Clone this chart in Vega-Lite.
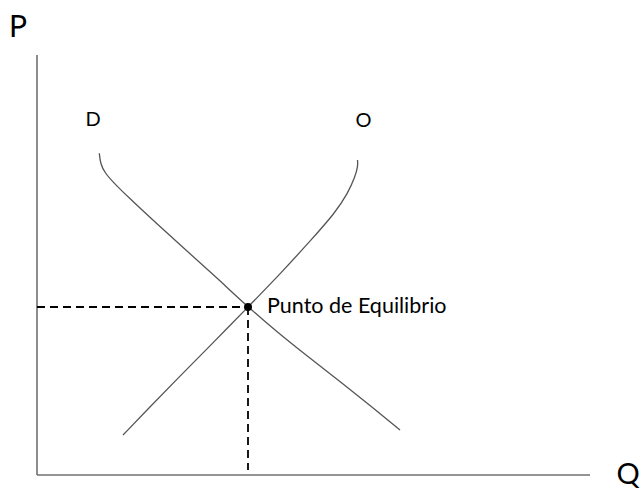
{
  "$schema": "https://vega.github.io/schema/vega-lite/v6.json",
  "width": 642,
  "height": 489,
  "padding": 0,
  "autosize": "none",
  "background": "white",
  "config": {"view": {"stroke": null}},
  "datasets": {
    "axes": [
      {"q": 0, "p": 0, "q2": 553, "p2": 0},
      {"q": 0, "p": 0, "q2": 0, "p2": 420}
    ],
    "curves": [
      {"curve": "D", "i": 0, "q": 62.3, "p": 321.7},
      {"curve": "D", "i": 1, "q": 63.5, "p": 311},
      {"curve": "D", "i": 2, "q": 68, "p": 302},
      {"curve": "D", "i": 3, "q": 76, "p": 293},
      {"curve": "D", "i": 4, "q": 90, "p": 279},
      {"curve": "D", "i": 5, "q": 120, "p": 251},
      {"curve": "D", "i": 6, "q": 150, "p": 224},
      {"curve": "D", "i": 7, "q": 180, "p": 197},
      {"curve": "D", "i": 8, "q": 211, "p": 168},
      {"curve": "D", "i": 9, "q": 240, "p": 143},
      {"curve": "D", "i": 10, "q": 270, "p": 119},
      {"curve": "D", "i": 11, "q": 300, "p": 96},
      {"curve": "D", "i": 12, "q": 330, "p": 72},
      {"curve": "D", "i": 13, "q": 363, "p": 45},
      {"curve": "O", "i": 0, "q": 86, "p": 40},
      {"curve": "O", "i": 1, "q": 110, "p": 65},
      {"curve": "O", "i": 2, "q": 140, "p": 96},
      {"curve": "O", "i": 3, "q": 175, "p": 131},
      {"curve": "O", "i": 4, "q": 211, "p": 168},
      {"curve": "O", "i": 5, "q": 245, "p": 203},
      {"curve": "O", "i": 6, "q": 275, "p": 236},
      {"curve": "O", "i": 7, "q": 298, "p": 262},
      {"curve": "O", "i": 8, "q": 311, "p": 282},
      {"curve": "O", "i": 9, "q": 318, "p": 298},
      {"curve": "O", "i": 10, "q": 321, "p": 309},
      {"curve": "O", "i": 11, "q": 320.5, "p": 315}
    ],
    "dashes": [
      {"q": 0, "p": 168, "q2": 211, "p2": 168},
      {"q": 211, "p": 168, "q2": 211, "p2": 5}
    ],
    "eq": [{"q": 211, "p": 168}],
    "labels": [
      {"t": "P", "q": -19, "p": 438, "size": 30},
      {"t": "Q", "q": 591, "p": -9, "size": 29},
      {"t": "D", "q": 56, "p": 349, "size": 20},
      {"t": "O", "q": 326.5, "p": 348, "size": 20}
    ],
    "eqlabel": [
      {"t": "Punto de Equilibrio", "q": 230, "p": 162, "size": 21.5}
    ]
  },
  "encoding": {
    "x": {"field": "q", "type": "quantitative", "scale": {"domain": [-37, 605], "nice": false, "zero": false}, "axis": null},
    "y": {"field": "p", "type": "quantitative", "scale": {"domain": [-14, 475], "nice": false, "zero": false}, "axis": null}
  },
  "layer": [
    {
      "data": {"name": "axes"},
      "mark": {"type": "rule", "color": "#707070", "strokeWidth": 1.6},
      "encoding": {"x2": {"field": "q2"}, "y2": {"field": "p2"}}
    },
    {
      "data": {"name": "curves"},
      "mark": {"type": "line", "interpolate": "basis", "color": "#555555", "strokeWidth": 1.3},
      "encoding": {
        "detail": {"field": "curve"},
        "order": {"field": "i", "type": "quantitative"}
      }
    },
    {
      "data": {"name": "dashes"},
      "mark": {"type": "rule", "color": "black", "strokeWidth": 1.8, "strokeDash": [8, 5]},
      "encoding": {"x2": {"field": "q2"}, "y2": {"field": "p2"}}
    },
    {
      "data": {"name": "eq"},
      "mark": {"type": "circle", "color": "black", "opacity": 1, "size": 64},
      "encoding": {}
    },
    {
      "data": {"name": "labels"},
      "mark": {"type": "text", "font": "Lato", "baseline": "alphabetic", "align": "center", "color": "black"},
      "encoding": {
        "text": {"field": "t"},
        "size": {"field": "size", "type": "quantitative", "scale": null}
      }
    },
    {
      "data": {"name": "eqlabel"},
      "mark": {"type": "text", "font": "Lato", "baseline": "alphabetic", "align": "left", "color": "black"},
      "encoding": {
        "text": {"field": "t"},
        "size": {"field": "size", "type": "quantitative", "scale": null}
      }
    }
  ]
}
